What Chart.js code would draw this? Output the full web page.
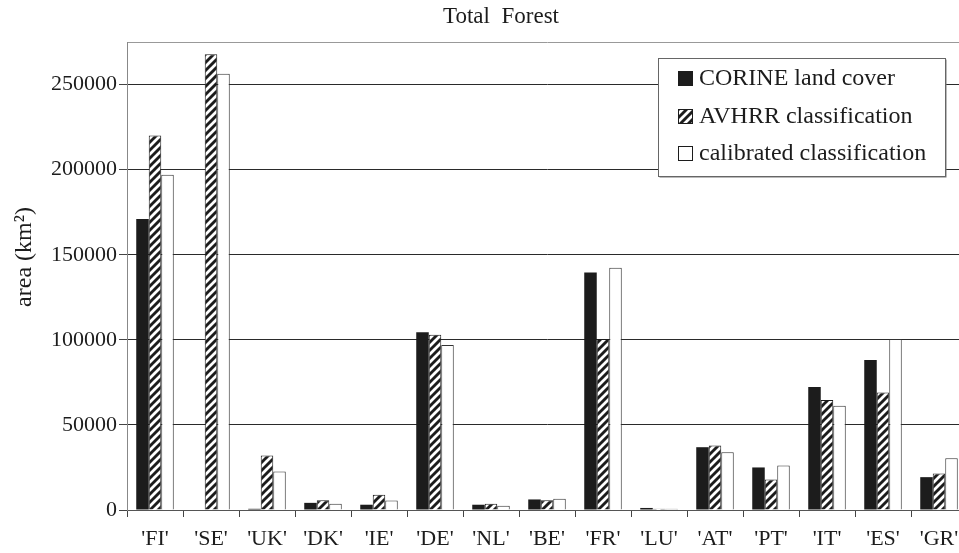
<!DOCTYPE html>
<html>
<head>
<meta charset="utf-8">
<script src="https://cdn.jsdelivr.net/npm/chart.js@4/dist/chart.umd.min.js"></script>
<style>
  html, body { margin: 0; padding: 0; background: #fff; overflow: hidden; }
  #wrap { width: 1002px; height: 553px; }
</style>
</head>
<body>
<div id="wrap"><canvas id="c" width="1002" height="553"></canvas></div>
<script>
// Forest area per country (km²) from three sources
const countries = ["'FI'", "'SE'", "'UK'", "'DK'", "'IE'", "'DE'", "'NL'", "'BE'", "'FR'", "'LU'", "'AT'", "'PT'", "'IT'", "'ES'", "'GR'"];
const corine     = [171000, 0, 700, 4200, 3100, 104400, 3100, 6200, 139500, 1200, 36900, 25000, 72300, 88200, 19300];
const avhrr      = [220000, 267800, 32000, 5800, 8900, 103000, 3600, 5800, 100500, 800, 37900, 17900, 64700, 69100, 21400];
const calibrated = [197000, 256400, 22600, 3600, 5600, 97000, 2500, 6600, 142300, 700, 33900, 26100, 61200, 100500, 30400];
const seriesNames = ["CORINE land cover", "AVHRR classification", "calibrated classification"];
const yTicks = [0, 50000, 100000, 150000, 200000, 250000];
const yMax = 275000;

const SERIF = "'Liberation Serif', 'DejaVu Serif', serif";
const INK = '#1c1c1c';

// diagonal white-on-black hatch
function makeHatch() {
  const s = 8;
  const p = document.createElement('canvas');
  p.width = s; p.height = s;
  const g = p.getContext('2d');
  g.fillStyle = INK;
  g.fillRect(0, 0, s, s);
  g.strokeStyle = '#fff';
  g.lineWidth = 2.8;
  g.beginPath();
  g.moveTo(-2, s + 2); g.lineTo(s + 2, -2);
  g.moveTo(-2, 2); g.lineTo(2, -2);
  g.moveTo(s - 2, s + 2); g.lineTo(s + 2, s - 2);
  g.stroke();
  return document.getElementById('c').getContext('2d').createPattern(p, 'repeat');
}
const hatch = makeHatch();

// boxed legend inside the plot, top right
const boxLegend = {
  id: 'boxLegend',
  afterDraw(chart) {
    const ctx = chart.ctx;
    const x = 658, y = 58, w = 287, h = 118;
    ctx.save();
    ctx.fillStyle = '#777';
    ctx.fillRect(x + 1.5, y + 1.5, w, h);
    ctx.fillStyle = '#fff';
    ctx.fillRect(x, y, w, h);
    ctx.strokeStyle = '#666';
    ctx.lineWidth = 1;
    ctx.strokeRect(x + 0.5, y + 0.5, w, h);
    ctx.font = '24px ' + SERIF;
    ctx.textBaseline = 'middle';
    const rows = [78, 116, 153];
    chart.data.datasets.forEach((ds, i) => {
      const ry = rows[i];
      ctx.fillStyle = ds.backgroundColor;
      ctx.fillRect(678, ry - 7, 15, 15);
      ctx.strokeStyle = INK;
      ctx.strokeRect(678.5, ry - 6.5, 14, 14);
      ctx.fillStyle = INK;
      ctx.fillText(ds.label, 699, ry + 1);
    });
    ctx.restore();
  }
};

// chart heading and vertical axis caption
const captions = {
  id: 'captions',
  afterDraw(chart) {
    const ctx = chart.ctx;
    ctx.save();
    ctx.fillStyle = INK;
    ctx.textAlign = 'center';
    ctx.textBaseline = 'middle';
    ctx.font = '23px ' + SERIF;
    ctx.fillText('Total  Forest', 501, 17);
    ctx.translate(25, 257);
    ctx.rotate(-Math.PI / 2);
    ctx.font = '24px ' + SERIF;
    ctx.fillText('area (km²)', 0, 0);
    ctx.restore();
  }
};

new Chart(document.getElementById('c'), {
  type: 'bar',
  data: {
    labels: countries,
    datasets: [
      { label: seriesNames[0], data: corine, backgroundColor: INK, borderWidth: 0 },
      { label: seriesNames[1], data: avhrr, backgroundColor: hatch, borderColor: INK, borderWidth: 1 },
      { label: seriesNames[2], data: calibrated, backgroundColor: '#fff', borderColor: '#333', borderWidth: 1 }
    ]
  },
  options: {
    responsive: false,
    animation: false,
    devicePixelRatio: 1,
    layout: { padding: { top: 42, right: 35, left: 0, bottom: 0 } },
    datasets: { bar: { categoryPercentage: 0.67, barPercentage: 1.0 } },
    plugins: {
      legend: { display: false },
      tooltip: { enabled: false },
      title: { display: false }
    },
    scales: {
      x: {
        grid: {
          offset: true,
          drawOnChartArea: false,
          drawTicks: true,
          tickLength: 7,
          tickColor: '#444',
          color: '#444'
        },
        border: { display: true, color: '#555', width: 1 },
        ticks: {
          color: INK,
          font: { family: SERIF, size: 22 },
          padding: 9,
          maxRotation: 0,
          autoSkip: false
        },
        afterFit(scale) { scale.height = 43; }
      },
      y: {
        min: 0,
        max: yMax,
        afterBuildTicks(scale) {
          scale.ticks = yTicks.concat([yMax]).map(v => ({ value: v }));
        },
        grid: {
          color: ctx => (ctx.tick && ctx.tick.value === yMax) ? '#999' : '#2a2a2a',
          tickColor: ctx => (ctx.tick && ctx.tick.value === yMax) ? 'rgba(0,0,0,0)' : '#444',
          lineWidth: 1,
          drawTicks: true,
          tickLength: 8
        },
        border: { display: true, color: '#888', width: 1 },
        ticks: {
          color: INK,
          font: { family: SERIF, size: 22 },
          padding: 2,
          callback: v => (v === yMax ? '' : String(v))
        },
        afterFit(scale) { scale.width = 127; }
      }
    }
  },
  plugins: [boxLegend, captions]
});
</script>
</body>
</html>
